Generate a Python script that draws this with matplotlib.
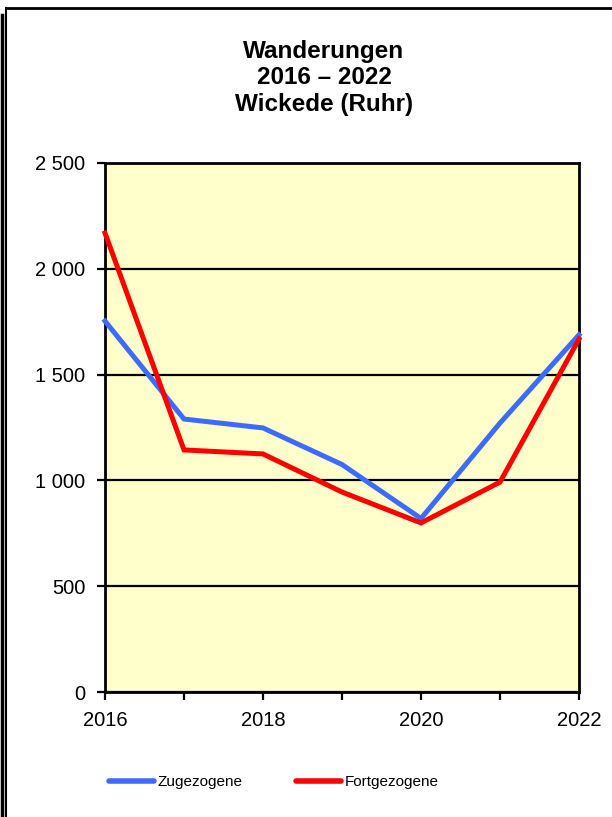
import matplotlib.pyplot as plt
from matplotlib.lines import Line2D
from matplotlib.ticker import FuncFormatter

plt.rcParams['font.family'] = ['Liberation Sans', 'DejaVu Sans']

years = [2016, 2017, 2018, 2019, 2020, 2021, 2022]
zugezogene = [1753, 1290, 1248, 1075, 820, 1271, 1688]
fortgezogene = [2169, 1144, 1125, 945, 799, 992, 1668]

W, H = 612, 817
fig = plt.figure(figsize=(W / 100, H / 100), dpi=100)
ax = fig.add_axes([105 / W, (H - 692) / H, (579 - 105) / W, (692 - 163) / H])
ax.set_facecolor('#FFFFCC')

ax.plot(years, zugezogene, color='#3D6BFF', lw=3.6, solid_joinstyle='miter', clip_on=False, zorder=3)
ax.plot(years, fortgezogene, color='#FF0000', lw=3.6, solid_joinstyle='miter', clip_on=False, zorder=4)

ax.set_xlim(2016, 2022)
ax.set_ylim(0, 2500)
ax.set_yticks(range(0, 2501, 500))
ax.yaxis.set_major_formatter(FuncFormatter(lambda v, p: f"{int(v):,}".replace(",", " ")))
ax.set_xticks(years)
ax.set_xticklabels([str(y) if y % 2 == 0 else "" for y in years])
ax.grid(axis='y', color='black', lw=1.6)
ax.set_axisbelow(True)
for s in ax.spines.values():
    s.set_linewidth(2)
ax.tick_params(axis='both', direction='out', length=6, width=1.6, labelsize=14.5)
ax.tick_params(axis='y', pad=8)
ax.tick_params(axis='x', pad=8)

fig.text(324 / W, 1 - 78 / H, "Wanderungen\n2016 \u2013 2022\nWickede (Ruhr)",
         ha='center', va='center', fontsize=17.5, fontweight='bold', linespacing=1.2)

handles = [Line2D([], [], color='#3D6BFF', lw=4, solid_capstyle='round'),
           Line2D([], [], color='#FF0000', lw=4, solid_capstyle='round')]
fig.legend(handles, ['Zugezogene', 'Fortgezogene'], loc='center', ncol=2,
           bbox_to_anchor=(274 / W, 1 - 782 / H), frameon=False, fontsize=11,
           handlelength=2.95, handletextpad=0.25, columnspacing=3.5)

# outer frame with shadow line on the left
fig.add_artist(Line2D([6 / W, 1], [1 - 8 / H, 1 - 8 / H], color='black', lw=2))
fig.add_artist(Line2D([6 / W, 6 / W], [1 - 8 / H, 0], color='black', lw=1.5))
fig.add_artist(Line2D([2 / W, 2 / W], [1 - 15 / H, 0], color='black', lw=2.5))

fig.savefig('out.png', dpi=100)
